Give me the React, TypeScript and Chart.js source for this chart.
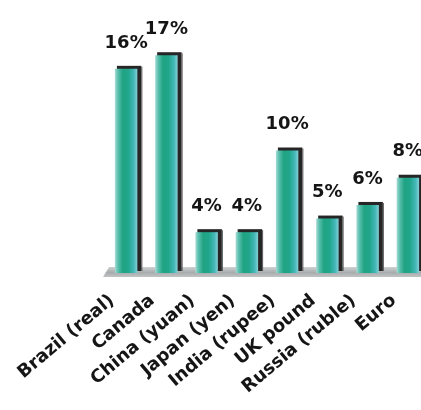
import React, { useEffect, useRef } from "react";
import { Chart, registerables } from "chart.js";

Chart.register(...registerables);

const currencies = [
  "Brazil (real)",
  "Canada",
  "China (yuan)",
  "Japan (yen)",
  "India (rupee)",
  "UK pound",
  "Russia (ruble)",
  "Euro",
];
const changePercent = [16, 17, 4, 4, 10, 5, 6, 8];
const valueSuffix = "%";

const FONT = "'DejaVu Sans', Verdana, sans-serif";
const BAR_FRACTION = 0.9 * 0.62;
const AXIS_FLOOR = 1;

function barGradient(context: any) {
  const chart = context.chart;
  const area = chart.chartArea;
  const xs = chart.scales && chart.scales.x;
  if (!area || !xs || context.dataIndex === undefined) return "#22a688";
  const cx = xs.getPixelForValue(context.dataIndex);
  const cw = (area.right - area.left) / currencies.length;
  const hw = (cw * BAR_FRACTION) / 2;
  const g = chart.ctx.createLinearGradient(cx - hw, 0, cx + hw, 0);
  g.addColorStop(0, "#a6dcd6");
  g.addColorStop(0.14, "#5abfae");
  g.addColorStop(0.35, "#1fa382");
  g.addColorStop(0.6, "#21a68c");
  g.addColorStop(0.85, "#46b8ba");
  g.addColorStop(1, "#86d1d6");
  return g;
}

const decorPlugin = {
  id: "decor",
  beforeDatasetsDraw(chart: any) {
    const { ctx, chartArea } = chart;
    const meta = chart.getDatasetMeta(0);
    const base = chartArea.bottom;
    ctx.save();
    // floor
    const fg = ctx.createLinearGradient(0, base - 6, 0, base + 5);
    fg.addColorStop(0, "#cfd1d1");
    fg.addColorStop(0.5, "#a9acad");
    fg.addColorStop(1, "#c6c8c8");
    ctx.fillStyle = fg;
    ctx.beginPath();
    ctx.moveTo(chartArea.left - 3, base + 4);
    ctx.lineTo(chartArea.left + 3, base - 6);
    ctx.lineTo(chart.width, base - 6);
    ctx.lineTo(chart.width, base + 4);
    ctx.closePath();
    ctx.fill();
    // dark side / shadow of each bar
    meta.data.forEach((el: any) => {
      const p = el.getProps(["x", "y", "base", "width"], true);
      const left = p.x - p.width / 2;
      const right = p.x + p.width / 2;
      ctx.fillStyle = "#262626";
      ctx.fillRect(left + 2, p.y - 3, right - left + 2, p.base - p.y + 1);
      ctx.fillStyle = "#555555";
      ctx.fillRect(right + 4, p.y - 2, 1, p.base - p.y);
    });
    ctx.restore();
  },
  afterDatasetsDraw(chart: any) {
    const { ctx } = chart;
    const meta = chart.getDatasetMeta(0);
    ctx.save();
    ctx.fillStyle = "#151515";
    ctx.font = `bold 18px ${FONT}`;
    ctx.textAlign = "center";
    ctx.textBaseline = "bottom";
    meta.data.forEach((el: any, i: number) => {
      const p = el.getProps(["x", "y"], true);
      ctx.fillText(`${changePercent[i]}${valueSuffix}`, p.x, p.y - 17);
    });
    ctx.restore();
  },
};

export default function App() {
  const canvasRef = useRef<HTMLCanvasElement | null>(null);

  useEffect(() => {
    const canvas = canvasRef.current;
    if (!canvas) return;
    const chart = new Chart(canvas, {
      type: "bar",
      data: {
        labels: currencies,
        datasets: [
          {
            data: changePercent,
            base: AXIS_FLOOR,
            backgroundColor: barGradient,
            borderWidth: 0,
            barPercentage: 0.9,
            categoryPercentage: 0.62,
          },
        ],
      },
      options: {
        responsive: false,
        animation: false,
        devicePixelRatio: 1,
        layout: { padding: { top: 28, left: 106, right: 12, bottom: 0 } },
        plugins: {
          legend: { display: false },
          tooltip: { enabled: false },
        },
        scales: {
          y: {
            display: false,
            beginAtZero: false,
            min: AXIS_FLOOR,
            max: 19,
          },
          x: {
            grid: { display: false },
            border: { display: false },
            ticks: {
              autoSkip: false,
              minRotation: 40,
              maxRotation: 40,
              labelOffset: -14,
              padding: 9,
              color: "#151515",
              font: { family: FONT, size: 18, weight: "bold" },
            },
            afterFit: (scale: any) => {
              scale.height = 137;
              scale.paddingLeft = 0;
              scale.paddingRight = 0;
            },
          },
        },
      },
      plugins: [decorPlugin],
    });
    return () => chart.destroy();
  }, []);

  return (
    <div
      style={{
        position: "fixed",
        left: 0,
        top: 0,
        width: 421,
        height: 410,
        overflow: "hidden",
        background: "#ffffff",
      }}
    >
      <canvas ref={canvasRef} width={440} height={410} style={{ display: "block" }} />
    </div>
  );
}
